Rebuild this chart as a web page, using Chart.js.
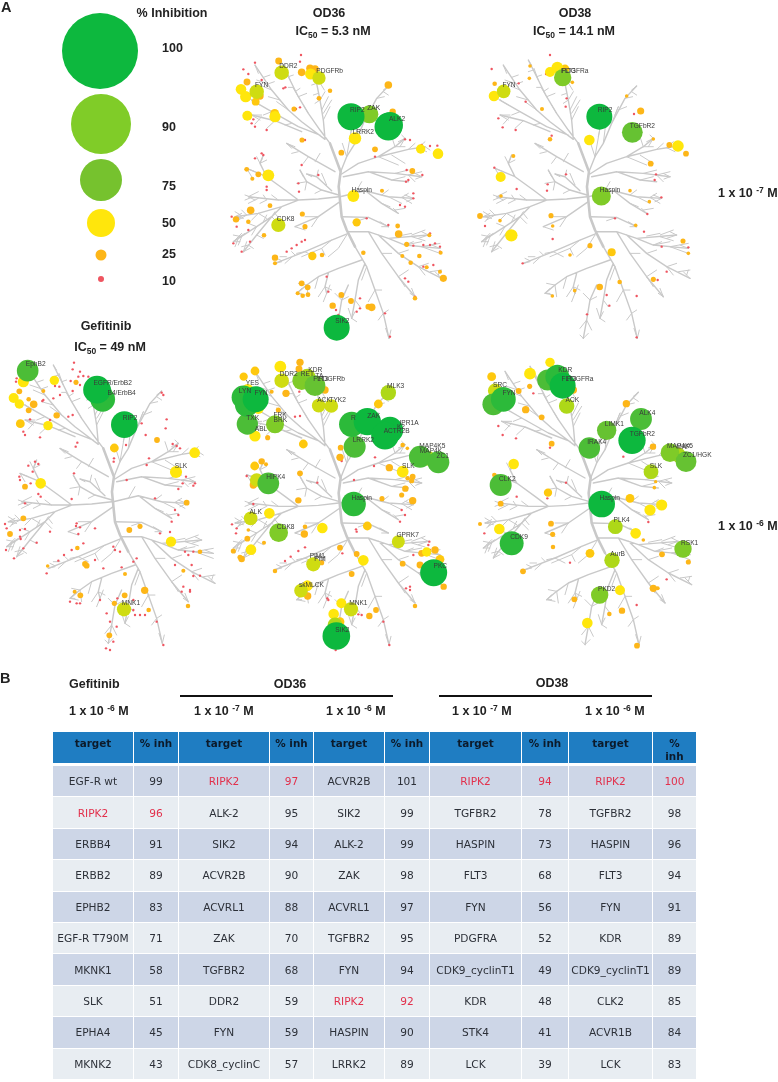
<!DOCTYPE html>
<html><head><meta charset="utf-8">
<style>
html,body{margin:0;padding:0;background:#fff;width:778px;height:1082px;overflow:hidden}
#wrap{position:relative;width:778px;height:1082px;font-family:"Liberation Sans",Arial,sans-serif;filter:blur(0.35px)}
canvas{position:absolute;left:0;top:0}
.t{position:absolute;font-weight:bold;color:#222;white-space:nowrap;line-height:14px;font-size:12.5px}
.c{transform:translateX(-50%)}
.t sub{font-size:8.5px;line-height:0;vertical-align:-3px}
.t sup{font-size:8.5px;line-height:0;vertical-align:4px}
.rule{position:absolute;height:2px;background:#111}
table{position:absolute;left:52px;top:731px;width:644px;border-collapse:collapse;table-layout:fixed;font-family:"DejaVu Sans",Verdana,sans-serif;font-size:10.6px;color:#2c3038}
td,th{border:1.5px solid #fff;padding:0;text-align:center;overflow:visible;white-space:nowrap;height:30.4px}
thead th{background:#1f7dc2;color:#0c1a2a;font-weight:bold;height:32px;vertical-align:top;padding-top:5px;box-sizing:border-box;font-size:10.4px;line-height:13px;white-space:normal;border-bottom:3.5px solid #fff}
tr.a td{background:#cdd6e7}
tr.b td{background:#e8edf2}
.red{color:#e2304c}
</style>
<script src="https://cdn.jsdelivr.net/npm/chart.js@4"></script>
</head><body>
<div id="wrap">
<canvas id="c" width="778" height="1082"></canvas>
</div>
<script>
/* ---------- table data ---------- */
const gefTargets=["EGF-R wt","RIPK2","ERBB4","ERBB2","EPHB2","EGF-R T790M","MKNK1","SLK","EPHA4","MKNK2"];
const gefInh=[99,96,91,89,83,71,58,51,45,43];
const od36LowTargets=["RIPK2","ALK-2","SIK2","ACVR2B","ACVRL1","ZAK","TGFBR2","DDR2","FYN","CDK8_cyclinC"];
const od36LowInh=[97,95,94,90,88,70,68,59,59,57];
const od36HighTargets=["ACVR2B","SIK2","ALK-2","ZAK","ACVRL1","TGFBR2","FYN","RIPK2","HASPIN","LRRK2"];
const od36HighInh=[101,99,99,98,97,95,94,92,90,89];
const od38LowTargets=["RIPK2","TGFBR2","HASPIN","FLT3","FYN","PDGFRA","CDK9_cyclinT1","KDR","STK4","LCK"];
const od38LowInh=[94,78,73,68,56,52,49,48,41,39];
const od38HighTargets=["RIPK2","TGFBR2","HASPIN","FLT3","FYN","KDR","CDK9_cyclinT1","CLK2","ACVR1B","LCK"];
const od38HighInh=[100,98,96,94,91,89,89,85,84,83];

/* ---------- legend ---------- */
const legendPct=[100,90,75,50,25,10];

/* ---------- kinome tree skeleton ---------- */
const treeTrunk=[
[445,600,441,560,447,515,432,475,415,430],
[445,600,450,650,465,690,490,740]];
const treeLimbs=[
[415,430,385,390,350,340,320,290,295,240,265,180],
[400,418,330,365,290,330,240,270,190,195],
[385,405,320,380,240,335,180,300],
[330,395,250,362,180,345],
[400,415,395,360,385,300,370,225],
[447,515,465,470,490,430,515,370,555,295,590,258],
[450,522,500,490,560,470,610,440,640,415],
[560,470,650,448,700,440],
[455,530,530,515,610,520,690,530],
[530,515,600,540,650,545],
[445,590,520,572,590,590,665,595],
[525,575,570,610,620,640],
[450,650,530,652,590,680],
[470,695,530,695,590,715,710,705],
[590,715,640,735,745,745],
[560,705,620,760,680,800,750,835],
[530,695,570,760,620,830,670,890],
[490,740,525,800,550,870,575,940,592,1015],
[470,700,420,720,340,755,250,790],
[510,780,440,805,380,830,345,855,315,880],
[410,820,400,860,405,880],
[470,855,450,900,440,960,430,1015],
[520,790,500,840,490,900,480,955],
[441,590,380,597,320,600,260,600,170,590],
[320,600,270,620,200,640,130,650],
[270,620,240,650,195,680,125,725],
[240,650,195,705,155,755],
[430,515,350,470,285,430],
[320,600,280,570,225,530,205,490,215,465],
[225,530,165,505],
[441,585,390,570,345,545,325,510],
[420,572,375,530,345,522],
[445,605,380,650,310,680]];
const treeTwigs=[
[240,270,205,255],[225,250,195,240],[290,330,255,305],[265,300,230,290],
[295,240,282,205],[320,290,305,265],[350,340,335,315],[320,290,345,280],
[240,335,215,345],[300,370,280,375],[180,300,165,290],[250,362,225,385],[210,350,190,372],
[385,300,400,275],[395,360,415,320],[395,340,420,300],[375,250,395,245],
[515,370,535,320],[490,430,500,350],[465,470,480,385],[465,470,452,430],[555,295,578,290],[535,330,560,320],[575,275,590,285],
[610,440,600,410],[610,440,640,440],[640,415,630,405],[650,448,670,430],[680,443,700,425],[680,443,705,455],
[600,465,640,490],[560,470,620,495],[610,520,650,510],[650,525,690,515],[650,525,670,545],[600,540,640,530],
[590,590,630,610],[630,592,650,580],[630,592,660,610],[570,610,595,620],[590,680,565,665],
[530,652,500,662],[660,705,700,690],[660,710,700,722],[620,708,660,700],[640,735,665,725],[640,735,690,725],[690,740,745,730],[690,740,745,760],
[620,760,650,750],[680,800,710,790],[680,800,700,825],[715,815,750,810],[570,760,600,760],[620,830,650,810],[620,830,640,860],
[525,800,510,840],[550,870,530,905],[550,870,570,870],[575,940,560,960],[575,940,590,930],
[490,900,505,920],[480,955,470,925],[480,955,495,965],
[440,960,420,985],[440,960,455,990],[450,900,430,880],[450,900,470,890],
[400,860,380,890],[400,860,420,870],[405,880,395,905],
[380,830,370,865],[345,855,350,890],[345,855,320,850],[315,880,340,885],
[340,755,370,770],[340,755,315,760],[420,720,390,745,330,770],[390,745,400,765],[300,772,280,790],
[465,705,440,745,410,770],
[170,590,200,575],[200,595,170,610],[260,600,240,585],[200,640,225,655],[200,640,180,660],[150,647,135,665],[150,647,130,635],
[195,680,170,670],[195,680,180,705],[150,710,125,705],[150,710,140,735],[240,650,260,670],[240,650,250,635],[195,705,215,715],[170,735,150,740],[170,735,185,745],
[205,490,195,470],[205,490,225,480],[165,505,180,530],
[320,455,300,460],[350,470,335,490],[370,485,385,460],
[345,545,315,550],[345,545,340,570],[375,530,380,510],[390,570,370,580],[405,555,390,520],
[380,650,340,650],[380,650,360,680],[310,680,340,690],
[490,580,510,545],[570,585,590,570],[610,630,640,625],
[215,232,235,225],[228,252,248,245],[280,210,265,215],[290,230,305,225],[305,262,290,262],[310,275,325,265],
[375,250,360,255],[380,280,365,285],[385,300,370,310],[390,330,410,290],[380,240,398,270],
[310,765,300,755],[285,770,265,770],[270,782,255,775],[225,600,205,610],[225,600,215,585],[180,592,160,585],[180,592,160,600],
[165,645,150,630],[165,645,140,660],[160,700,135,715],[140,715,130,740],[215,665,225,645],[250,640,262,655],
[590,258,575,270],[700,440,715,450],[690,530,670,520],[690,530,672,537],[665,595,640,585],[665,595,645,605],[620,640,605,625],[590,680,570,680],
[710,705,680,715],[710,705,690,695],[745,745,720,735],[750,835,730,815],[740,825,745,810],[670,890,660,865],[670,890,655,880],
[592,1015,582,985],[592,1015,598,990],[430,1015,445,1000],[430,1015,420,1005],[315,880,330,865],[315,880,330,880],
[640,415,620,425],[640,415,625,440],[480,955,490,935],[405,880,415,855],[250,790,270,785],[155,755,165,725],[155,755,175,745],
[125,725,145,725],[125,725,150,700],[130,650,155,655],[130,650,150,640],[170,590,190,600],[165,505,190,515],[215,465,210,480],
[285,430,310,440],[285,430,300,445],[325,510,335,530],[345,522,360,530],
[180,300,205,315],[180,345,210,345],[180,345,205,360],[190,195,200,220],[265,180,275,195],[370,225,380,245],[500,350,495,375],[480,385,475,410],[535,320,525,345]];

/* ---------- panels: [x, y, % inhibition] read in 3x-crop pixels ---------- */
const od36LowMarks=[
[1053,350,97],[1108,343,70],[1165,380,99],[1170,375,94],[1065,415,52],[1165,255,35],[1178,335,30],
[1262,447,42],[1314,461,46],[1125,448,28],[1024,458,28],[1237,513,28],[1060,588,50],[1146,572,22],
[805,526,50],[775,523,28],[740,508,25],[757,536,22],[752,631,35],[810,617,25],[708,658,30],[745,665,24],
[835,675,58],[792,706,24],[907,642,26],[915,680,26],[1070,667,38],[1193,678,25],[1196,702,35],[1288,706,22],
[1220,733,26],[1258,768,24],[1207,768,22],[1232,788,24],[1280,802,22],[1320,815,22],[1330,835,33],[1322,758,22],
[825,773,30],[825,790,22],[937,768,38],[966,765,24],[1090,758,24],[905,850,28],[923,862,28],[893,880,22],[908,887,24],[924,884,25],
[1024,885,28],[1053,903,28],[998,917,30],[1115,922,35],[1105,920,28],[1245,895,24],[1010,983,94],
[845,218,59],[836,183,32],[905,217,35],[932,222,48],[930,205,35],[945,207,35],[957,234,55],[990,272,24],[957,295,25],[882,327,26],[906,420,26],
[770,275,59],[741,246,32],[723,268,46],[737,290,48],[767,305,36],[780,288,34],[742,347,44],[824,340,40],[825,350,48]];
const od36LowDots=[[765,188],[903,165],[900,185],[730,208],[745,222],[785,240],[856,262],[850,265],[760,358],[755,370],[765,380],[800,390],[900,322],[888,327],[790,465],[785,460],[765,475],[800,560],[800,570],[897,575],[895,550],[905,495],[955,525],[915,420],[710,680],[695,650],[700,730],[725,755],[745,690],[750,725],[860,755],[875,745],[890,735],[905,725],[915,720],[1100,655],[1165,675],[1240,580],[1240,595],[1215,620],[1200,615],[1125,470],[1220,510],[1267,525],[1225,540],[1218,545],[1265,435],[1290,438],[1312,437],[1230,420],[1215,418],[1290,700],[1240,737],[1270,735],[1290,735],[1305,730],[1320,740],[1320,755],[1270,800],[1300,795],[1215,835],[1225,845],[1245,890],[985,875],[1080,895],[1080,925],[1070,935],[1155,940],[980,830],[1170,1010],[1008,930],[1015,945]];
const od36LowLabels=[["DDR2",865,200],["PDGFRb",989,215],["FYN",785,257],["RIP2",1072,332],["ZAK",1121,326],["ALK2",1191,358],["LRRK2",1090,396],["Haspin",1085,570],["CDK8",857,657],["SIK2",1027,965]];

const od38LowMarks=[
[478,350,94],[577,397,78],[484,588,73],[368,233,68],[191,274,56],[162,288,46],[352,203,50],[330,216,44],[375,207,40],[448,420,46],[602,333,33],
[714,438,49],[688,435,28],[738,461,28],[632,491,28],[182,531,44],[214,706,52],[120,648,28],[333,647,26],[450,737,26],[515,757,37],[729,723,26],[479,861,31],[539,846,24],[640,838,26],[164,251,24],[306,327,22],[330,418,24],[220,468,22],
[270,198,20],[268,235,20],[560,288,20],[640,417,20],[570,572,20],[628,605,20],[183,588,20],[180,662,20],[338,678,20],[390,765,20],[745,760,20],[587,676,20],[337,888,20],[404,872,20],[397,247,20]];
const od38LowDots=[[330,165],[155,207],[236,250],[257,305],[175,355],[188,382],[227,390],[335,407],[377,320],[380,295],[318,222],[163,503],[378,523],[648,523],[644,540],[323,553],[321,572],[230,567],[135,678],[582,342],[664,592],[622,642],[525,655],[338,717],[612,695],[665,740],[745,742],[680,815],[653,840],[248,790],[590,888],[508,917],[441,943],[590,1012],[500,885]];
const od38LowLabels=[["FLT3",385,215],["PDGFRa",405,214],["FYN",207,257],["RIP2",495,332],["TGFbR2",607,379],["Haspin",510,570]];

const gefMarks=[
[83,152,83],[70,185,48],[163,181,42],[228,187,26],[291,209,99],[308,238,91],[300,220,89],[373,314,96],[343,384,40],[471,360,28],[584,398,46],[528,456,51],[122,490,46],[75,500,28],[58,214,28],[41,234,44],[58,252,42],[86,238,24],[101,253,35],[86,271,28],[61,311,40],[144,317,42],[170,286,30],[130,213,22],
[70,595,28],[30,642,28],[560,548,28],[420,619,26],[388,630,28],[513,665,45],[232,684,24],[255,732,28],[260,737,28],[375,762,22],[434,811,34],[241,826,28],[224,815,22],[374,826,28],[343,850,26],[372,868,58],[446,870,24],[564,858,24],[328,946,28],[600,695,24],[550,752,22],[143,738,20]];
const gefDots=[[222,128],[218,148],[240,155],[235,170],[250,168],[265,170],[212,183],[240,195],[218,213],[165,198],[178,200],[180,225],[160,235],[130,240],[127,243],[90,298],[70,335],[75,345],[120,352],[150,300],[205,290],[218,285],[50,175],[48,185],[485,218],[490,225],[500,298],[497,325],[425,310],[437,345],[378,375],[232,368],[227,380],[518,372],[530,378],[540,385],[447,415],[440,435],[342,415],[341,425],[105,425],[85,437],[115,432],[98,455],[58,470],[60,480],[92,490],[115,522],[122,530],[558,470],[585,490],[580,497],[548,490],[535,507],[380,480],[215,537],[222,460],[75,550],[465,535],[525,570],[535,585],[515,605],[480,640],[510,636],[15,612],[20,625],[60,630],[75,627],[60,650],[62,657],[110,668],[18,690],[42,715],[70,685],[150,635],[230,610],[228,618],[240,622],[235,642],[285,625],[192,705],[215,690],[175,722],[140,760],[250,670],[340,680],[345,690],[360,695],[285,720],[310,745],[410,715],[400,725],[365,742],[555,695],[565,705],[580,695],[600,767],[580,768],[525,735],[575,735],[550,800],[545,815],[570,815],[570,810],[210,845],[230,850],[240,850],[300,840],[320,880],[330,905],[350,920],[380,880],[400,870],[405,885],[420,885],[435,885],[470,905],[490,975],[318,985],[330,990],[340,965],[400,840],[352,835]];
const gefLabels=[["EphB2",107,134],["EGFR/ErbB2",338,190],["B4/ErbB4",365,219],["RIP2",390,296],["SLK",543,438],["MNK1",393,850]];

const od36HighMarks=[
[107,178,94],[70,172,88],[80,195,88],[82,252,81],[165,253,70],[105,288,48],[83,150,50],[115,205,48],[105,93,40],[71,110,38],[181,80,50],[240,67,34],[237,87,32],[185,122,59],[245,122,72],[262,110,64],[285,137,78],[315,150,34],[198,160,34],[175,210,26],[143,293,26],[155,155,22],
[296,197,56],[334,198,56],[505,158,62],[475,192,40],[395,253,92],[442,245,98],[495,287,99],[510,270,95],[404,320,85],[250,312,40],[362,323,28],[360,352,34],[548,315,24],[562,325,20],
[600,350,85],[625,355,60],[655,367,85],[548,395,50],[508,383,34],[578,410,28],[563,415,24],[575,422,26],[556,446,30],[545,465,26],[578,482,34],[486,476,26],
[104,378,40],[125,364,30],[138,373,22],[145,430,83],[110,420,56],[100,435,34],[240,400,28],[235,481,30],[401,492,90],[92,535,56],[148,520,46],[176,578,72],[82,596,28],[40,633,26],[93,629,46],[65,657,30],[60,652,26],[132,608,22],[85,570,20],[255,560,24],[253,582,34],[307,564,46],[442,558,40],[535,605,54],[430,661,46],[410,642,28],[360,623,28],[280,673,58],[305,668,26],[165,693,24],[395,702,28],
[548,671,28],[620,636,42],[605,640,32],[645,630,34],[660,658,40],[600,675,32],[641,698,97],[671,740,30],[585,798,24],[243,752,56],[262,737,46],[263,768,34],[364,790,44],[341,822,46],[393,808,58],[360,845,40],[345,855,60],[349,888,99],[448,828,30],[468,810,28]];
const od36HighDots=[[225,230],[240,228],[238,155],[292,428],[80,408],[36,553],[50,565],[48,580],[100,492],[465,352],[462,378],[402,420],[365,363],[212,650],[195,663],[235,633],[255,622],[410,575],[408,568],[367,640],[540,545],[545,510],[555,525],[628,605],[625,615],[630,630],[580,645],[558,745],[570,740],[570,750],[325,780],[322,775],[415,823],[425,825],[490,845],[508,915],[347,930]];
const od36HighLabels=[["DDR2",206,103],["RET",262,103],["KDR",286,90],["TA",298,110],["FLT3",302,119],["PDGFRb",335,119],["YES",97,131],["LYN",75,155],["FYN",123,160],["ACK",312,180],["TYK2",353,180],["MLK3",527,140],["R",400,236],["ZAK",461,229],["IPR1A",567,249],["K2",543,262],["ACTR2B",530,274],["LRRK2",430,300],["FRK",180,226],["BRK",181,240],["TXK",98,234],["ABL",123,269],["MAP4K5",637,320],["MAP4K",633,334],["ZC1",668,348],["SLK",565,378],["HIPK4",167,412],["Haspin",425,474],["ALK",107,517],["CDK8",197,561],["GPRK7",563,587],["PIM1",292,650],["PIM",300,658],["PKC",661,680],["skMLCK",274,737],["MNK1",415,790],["SIK2",367,870]];

const od38HighMarks=[
[262,110,89],[233,120,80],[278,137,94],[310,150,34],[180,101,50],[240,67,42],[65,110,40],[146,153,28],[179,139,26],[75,152,58],[70,193,84],[100,178,91],[290,198,62],[167,209,34],[215,232,28],[245,311,28],[358,324,82],[410,271,74],[513,237,84],[486,301,98],[469,191,34],[549,320,30],[600,338,72],[625,345,60],[648,365,78],[543,395,60],[92,435,85],[131,372,46],[73,405,24],[92,491,28],[234,458,38],[395,492,96],[480,475,40],[540,510,48],[575,495,48],[436,560,60],[497,580,46],[88,567,46],[125,610,89],[30,552,22],[243,551,28],[248,583,26],[249,621,24],[360,640,40],[159,694,28],[426,661,62],[639,627,68],[576,643,28],[655,666,26],[520,600,20],[550,745,34],[563,745,22],[389,765,68],[450,751,44],[313,778,28],[352,849,46],[456,812,30],[418,822,24],[501,917,28],[553,443,20],[557,425,18]];
const od38HighDots=[[190,160],[98,285],[138,295],[43,580],[85,258],[288,428],[232,475],[140,470],[460,350],[535,546],[300,668],[590,718],[500,795],[240,323]];
const od38HighLabels=[["KDR",286,90],["FLT3",297,118],["PDGFRa",330,117],["SRC",90,137],["FYN",117,160],["ACK",307,180],["ALK4",532,219],["LIMK1",433,253],["TGFbR2",517,283],["IRAK4",380,306],["MAP4K5",630,320],["MAP",640,322],["ZC1/HGK",682,347],["SLK",558,378],["CLK2",112,417],["Haspin",419,474],["PLK4",455,541],["CDK9",147,592],["AurB",443,643],["RSK1",659,609],["PKD2",410,748]];

/* ---------- layout & styling (not data) ---------- */
const panels=[
 {marks:od36LowMarks,dots:od36LowDots,labels:od36LowLabels,crop:[0,0],hub:[340,196.7]},
 {marks:od38LowMarks,dots:od38LowDots,labels:od38LowLabels,crop:[440,0],hub:[588.3,196.7]},
 {marks:gefMarks,dots:gefDots,labels:gefLabels,crop:[0,320],hub:[113.3,501.7]},
 {marks:od36HighMarks,dots:od36HighDots,labels:od36HighLabels,crop:[220,340],hub:[340,503]},
 {marks:od38HighMarks,dots:od38HighDots,labels:od38HighLabels,crop:[470,340],hub:[590,503]}
];
const legendPos=[[100,51],[101,124],[101,180],[101,223],[101,255],[101,279]];
const legendR={100:38,90:30,75:21,50:14,25:5.5,10:3};
const legendColor={100:'#0db83e',90:'#80cc28',75:'#76c22e',50:'#ffe60c',25:'#fdb618',10:'#ef5560'};
const sizeStops=[[10,1.2],[20,1.8],[25,2.4],[30,3.2],[40,4.4],[50,5.9],[60,7.4],[70,9],[78,10.4],[85,11],[90,12.2],[94,13],[100,14]];
function sizeFor(p){for(let i=1;i<sizeStops.length;i++){if(p<=sizeStops[i][0]){const a=sizeStops[i-1],b=sizeStops[i];return a[1]+(b[1]-a[1])*(p-a[0])/(b[0]-a[0]);}}return 14;}
function colorFor(p){
 if(p<16)return '#ef5560';
 if(p<36)return '#fdb618';
 if(p<42)return '#fec80e';
 if(p<54)return '#ffe60c';
 if(p<60)return '#cfdc12';
 if(p<66)return '#aed818';
 if(p<74)return '#7fcb28';
 if(p<80)return '#66c232';
 if(p<88)return '#4cbd37';
 if(p<93)return '#2cba3a';
 return '#0db83e';
}
function polyData(list,hub){
 const out=[];
 list.forEach(l=>{for(let i=0;i<l.length;i+=2){out.push({x:hub[0]+(l[i]-445)/3,y:hub[1]+(l[i+1]-590)/3});}out.push({x:0,y:null});});
 return out;
}
const datasets=[];
panels.forEach(p=>{
 const toX=v=>p.crop[0]+v/3,toY=v=>p.crop[1]+v/3;
 [[treeTwigs,1],[treeLimbs,1.4],[treeTrunk,2.6]].forEach(([l,w])=>datasets.push({type:'line',data:polyData(l,p.hub),borderColor:'#c9c9c9',borderWidth:w,pointRadius:0,spanGaps:false,tension:0,borderCapStyle:'round',borderJoinStyle:'round',order:10,clip:false}));
 const pts=p.dots.map(d=>({x:toX(d[0]),y:toY(d[1]),r:sizeFor(10),pct:10}))
  .concat(p.marks.slice().sort((a,b)=>a[2]-b[2]).map(m=>({x:toX(m[0]),y:toY(m[1]),r:sizeFor(m[2]),pct:m[2]})));
 datasets.push({type:'bubble',data:pts,backgroundColor:c=>colorFor(c.raw.pct),borderWidth:0,hoverRadius:0,order:5,clip:false});
});
datasets.push({type:'bubble',data:legendPct.map((v,i)=>({x:legendPos[i][0],y:legendPos[i][1],r:legendR[v],pct:v})),backgroundColor:c=>legendColor[c.raw.pct],borderWidth:0,order:5,clip:false});

const labelPlugin={id:'kinaseLabels',afterDatasetsDraw(chart){
 const g=chart.ctx,xs=chart.scales.x,ys=chart.scales.y;
 g.save();g.font='6.6px "Liberation Sans",Arial,sans-serif';g.fillStyle='#3a3a3a';g.textAlign='center';g.textBaseline='middle';
 panels.forEach(p=>p.labels.forEach(l=>g.fillText(l[0],xs.getPixelForValue(p.crop[0]+l[1]/3),ys.getPixelForValue(p.crop[1]+l[2]/3))));
 g.restore();
}};
new Chart(document.getElementById('c'),{type:'scatter',data:{datasets},plugins:[labelPlugin],options:{
 responsive:false,animation:false,events:[],layout:{padding:0,autoPadding:false},
 plugins:{legend:{display:false},tooltip:{enabled:false}},
 scales:{x:{type:'linear',display:false,min:0,max:778},y:{type:'linear',display:false,min:0,max:1082,reverse:true}}
}});

/* ---------- real-text titles ---------- */
const wrap=document.getElementById('wrap');
function txt(html,x,y,center,size){const d=document.createElement('div');d.className='t'+(center?' c':'');d.innerHTML=html;d.style.left=x+'px';d.style.top=(y-7)+'px';if(size)d.style.fontSize=size+'px';wrap.appendChild(d);}
const m7='1 x 10 <sup>-7</sup> M',m6='1 x 10 <sup>-6</sup> M',ic=v=>'IC<sub>50</sub> = '+v;
[["A",1,7,0,14.5],["% Inhibition",172,13,1,12.5],["100",162,48,0],["90",162,127,0],["75",162,186,0],["50",162,223,0],["25",162,254,0],["10",162,281,0],
["OD36",329,13,1],[ic('5.3 nM'),333,31,1],["OD38",575,13,1],[ic('14.1 nM'),574,31,1],[m7,718,193,0],[m6,718,526,0],
["Gefitinib",106,326,1],[ic('49 nM'),110,347,1],["B",0,678,0,14.5],["Gefitinib",69,684,0],["OD36",290,684,1],[m6,69,711,0],[m7,194,711,0],[m6,326,711,0],
["OD38",552,683,1],[m7,452,711,0],[m6,585,711,0]].forEach(a=>txt(...a));
[[180,213],[439,213]].forEach(r=>{const d=document.createElement('div');d.className='rule';d.style.left=r[0]+'px';d.style.top='694.5px';d.style.width=r[1]+'px';wrap.appendChild(d);});

/* ---------- table ---------- */
const cols=[[gefTargets,gefInh],[od36LowTargets,od36LowInh],[od36HighTargets,od36HighInh],[od38LowTargets,od38LowInh],[od38HighTargets,od38HighInh]];
const widths=[81,45,91,44,71,45,92,47,84,44];
let h='<table><colgroup>'+widths.map(w=>`<col style="width:${w}px">`).join('')+'</colgroup><thead><tr>';
cols.forEach((c,i)=>{h+='<th>target</th><th>'+(i==4?'%<br>inh':'% inh')+'</th>';});
h+='</tr></thead><tbody>';
for(let r=0;r<10;r++){h+=`<tr class="${r%2?'b':'a'}">`;cols.forEach(c=>{const red=c[0][r]==='RIPK2'?' class="red"':'';h+=`<td${red}>${c[0][r]}</td><td${red}>${c[1][r]}</td>`;});h+='</tr>';}
h+='</tbody></table>';
wrap.insertAdjacentHTML('beforeend',h);
</script>
</body></html>
